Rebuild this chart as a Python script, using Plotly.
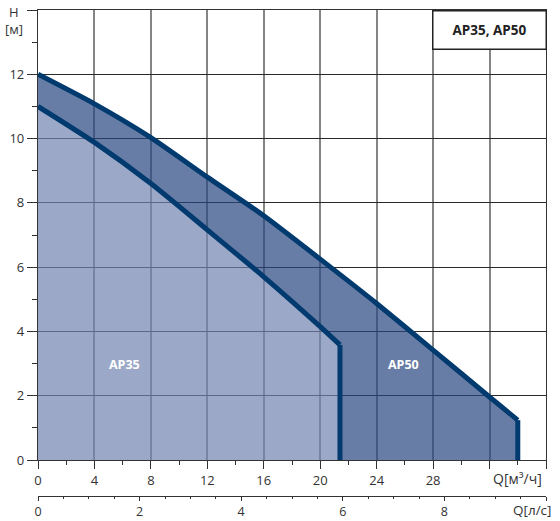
import plotly.graph_objects as go

# ---- data ----
q_ap50 = [0, 4, 8, 12, 16, 20, 24, 28, 32, 34]          # m3/h
h_ap50 = [12.0, 11.08, 10.03, 8.8, 7.6, 6.25, 4.87, 3.42, 1.96, 1.24]  # m

q_ap35 = [0, 4, 8, 12, 16, 20, 21.4]
h_ap35 = [11.0, 9.88, 8.6, 7.16, 5.7, 4.15, 3.58]

q_ticks = [0, 4, 8, 12, 16, 20, 24, 28, 32, 36]
q_ticktext = ["0", "4", "8", "12", "16", "20", "24", "28", "", ""]
qls_ticks = [0, 2, 4, 6, 8, 10]
qls_ticktext = ["0", "2", "4", "6", "8", ""]
h_ticks = [0, 2, 4, 6, 8, 10, 12, 14]
h_ticktext = ["0", "2", "4", "6", "8", "10", "12", ""]

LINE = "#003a6e"
FILL_AP35 = "rgba(112,131,175,0.70)"
FILL_AP50 = "rgba(40,70,128,0.70)"
FONT = "Open Sans"

fig = go.Figure()

# AP50 band (between upper and lower curves)
band_x = q_ap50 + [q_ap50[-1], q_ap35[-1]] + q_ap35[::-1]
band_y = h_ap50 + [0, 0] + h_ap35[::-1]
fig.add_trace(go.Scatter(x=band_x, y=band_y, mode="lines", fill="toself",
                         fillcolor=FILL_AP50, line=dict(width=0),
                         hoverinfo="skip", showlegend=False))
# AP35 area
fig.add_trace(go.Scatter(x=q_ap35 + [q_ap35[-1], 0], y=h_ap35 + [0, 0],
                         mode="lines", fill="toself", fillcolor=FILL_AP35,
                         line=dict(width=0), hoverinfo="skip", showlegend=False))

# curves
for q, h in [(q_ap35, h_ap35), (q_ap50, h_ap50)]:
    fig.add_trace(go.Scatter(x=q, y=h, mode="lines",
                             line=dict(color=LINE, width=5, shape="spline", smoothing=0.6),
                             hoverinfo="skip", showlegend=False))
    fig.add_trace(go.Scatter(x=[q[-1], q[-1]], y=[h[-1], 0], mode="lines",
                             line=dict(color=LINE, width=5),
                             hoverinfo="skip", showlegend=False))

# dummy trace for l/s axis
fig.add_trace(go.Scatter(x=[v / 3.6 for v in q_ap50], y=h_ap50, xaxis="x2",
                         mode="lines", line=dict(width=0), opacity=0,
                         hoverinfo="skip", showlegend=False))

H_PAPER = 521 - 10 - 20
ydom0 = (501 - 460) / H_PAPER

fig.update_layout(
    width=560, height=521,
    margin=dict(l=38, r=14, t=10, b=20, autoexpand=False),
    paper_bgcolor="white", plot_bgcolor="white",
    font=dict(family=FONT, size=13, color="#333"),
    xaxis=dict(range=[0, 36], tickvals=q_ticks, ticktext=q_ticktext,
               showgrid=True, gridcolor="#858585", gridwidth=1.5,
               zeroline=False, showline=True, linecolor="#333", linewidth=1.2,
               mirror=True, ticks="outside", ticklen=8, tickcolor="#333",
               minor=dict(tickvals=[2, 6, 10, 14, 18, 22, 26, 30, 34], ticks="outside",
                          ticklen=4, tickcolor="#333", showgrid=False),
               anchor="y", fixedrange=True, automargin=False),
    xaxis2=dict(range=[0, 10], overlaying="x", anchor="free", side="bottom",
                position=(501 - 496) / H_PAPER,
                tickvals=qls_ticks, ticktext=qls_ticktext,
                showgrid=False, zeroline=False, showline=True, linecolor="#333",
                linewidth=1.2, ticks="outside", ticklen=4, tickcolor="#333",
                tickfont=dict(size=12.5),
                minor=dict(tickvals=[0.5 * i for i in range(1, 20) if i % 4 != 0],
                           ticks="outside", ticklen=2, tickcolor="#333", showgrid=False),
                fixedrange=True, automargin=False),
    yaxis=dict(range=[0, 14], domain=[ydom0, 1], tickvals=h_ticks, ticktext=h_ticktext,
               showgrid=True, gridcolor="#2a2a2a", gridwidth=1,
               zeroline=False, showline=True, linecolor="#333", linewidth=1.2,
               mirror=True, ticks="outside", ticklen=10, tickcolor="#333",
               minor=dict(tickvals=[1, 3, 5, 7, 9, 11, 13], ticks="outside",
                          ticklen=5, tickcolor="#333", showgrid=False),
               fixedrange=True, automargin=False),
)

ann = []
ann.append(dict(text="Q[м³/ч]", xref="x", x=36, xanchor="right", xshift=-2,
                yref="paper", y=(501 - 478) / H_PAPER, yanchor="middle",
                showarrow=False, font=dict(size=14, color="#333")))
ann.append(dict(text="Q[л/с]", xref="x", x=36, xanchor="right", xshift=7,
                yref="paper", y=(501 - 510) / H_PAPER, yanchor="middle",
                showarrow=False, font=dict(size=13.5, color="#333")))
ann.append(dict(text="H", xref="paper", x=(14 - 38) / 508, xanchor="center",
                yref="paper", y=(501 - 12) / H_PAPER, yanchor="middle",
                showarrow=False, font=dict(size=13, color="#333")))
ann.append(dict(text="[м]", xref="paper", x=(14 - 38) / 508, xanchor="center",
                yref="paper", y=(501 - 29) / H_PAPER, yanchor="middle",
                showarrow=False, font=dict(size=13, color="#333")))
ann.append(dict(text="<b>AP35, AP50</b>", xref="paper", x=(547 - 38) / 508, xanchor="right",
                yref="paper", y=1, yanchor="top", showarrow=False,
                width=112, height=37, borderwidth=1.5, bordercolor="#222",
                bgcolor="white", borderpad=0, font=dict(size=13.5, color="#222")))
ann.append(dict(text="<b>AP35</b>", x=6.1, y=2.96, xref="x", yref="y", showarrow=False,
                font=dict(size=12.5, color="white")))
ann.append(dict(text="<b>AP50</b>", x=25.9, y=2.96, xref="x", yref="y", showarrow=False,
                font=dict(size=12.5, color="white")))
fig.update_layout(annotations=ann)

fig.write_html("out.html")
